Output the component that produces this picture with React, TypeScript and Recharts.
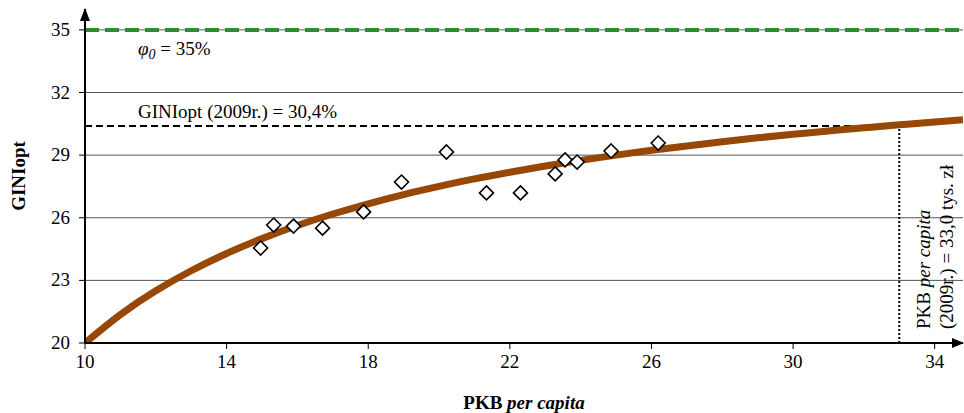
import {
  ComposedChart,
  Line,
  Scatter,
  XAxis,
  YAxis,
  ReferenceLine,
  ReferenceArea,
  ReferenceDot,
  Label,
} from "recharts";

// fitted curve
const curveX = [10, 11, 12, 13, 14, 15, 16, 17, 18, 19, 20, 21, 22, 23, 24, 25, 26, 27, 28, 29, 30, 31, 32, 33, 34, 34.8];
const curveY = [20.0, 21.36, 22.5, 23.46, 24.29, 25.0, 25.63, 26.18, 26.67, 27.11, 27.5, 27.86, 28.18, 28.48, 28.75, 29.0, 29.23, 29.44, 29.64, 29.83, 30.0, 30.16, 30.31, 30.45, 30.59, 30.69];

// observed points (PKB per capita, GINI)
const pointsX = [14.96, 15.33, 15.89, 16.71, 17.87, 18.94, 20.21, 21.34, 22.3, 23.28, 23.56, 23.9, 24.86, 26.19];
const pointsY = [24.55, 25.65, 25.6, 25.5, 26.28, 27.71, 29.15, 27.19, 27.19, 28.1, 28.77, 28.67, 29.2, 29.58];

const xTicks = [10, 14, 18, 22, 26, 30, 34];
const yTicks = [20, 23, 26, 29, 32, 35];

const X_MIN = 10;
const X_MAX = 34.8;
const Y_MIN = 20;
const Y_MAX = 36;

const PHI0 = 35;
const GINI_OPT = 30.4;
const PKB_OPT = 33.0;

const FONT = "Liberation Serif, Times New Roman, serif";
const FS = 19;

const curveData = curveX.map((x, i) => ({ x, y: curveY[i] }));
const pointData = pointsX.map((x, i) => ({ x, y: pointsY[i] }));

const Diamond = (props: any) => {
  const { cx, cy } = props;
  const r = 7;
  return (
    <path
      d={`M${cx},${cy - r} L${cx + r},${cy} L${cx},${cy + r} L${cx - r},${cy} Z`}
      fill="#fff"
      stroke="#000"
      strokeWidth={1.6}
    />
  );
};

const ArrowRight = (props: any) => {
  const { cx, cy } = props;
  return <path d={`M${cx + 1},${cy} L${cx - 11},${cy - 5} L${cx - 11},${cy + 5} Z`} fill="#000" />;
};

const ArrowUp = (props: any) => {
  const { cx, cy } = props;
  return <path d={`M${cx},${cy - 1} L${cx - 5},${cy + 12} L${cx + 5},${cy + 12} Z`} fill="#000" />;
};

const XTick = (props: any) => {
  const { x, y, payload } = props;
  return (
    <text x={x} y={y + 15} textAnchor="middle" fontFamily={FONT} fontSize={FS} fill="#000">
      {payload.value}
    </text>
  );
};

const YTick = (props: any) => {
  const { x, y, payload } = props;
  return (
    <text x={x} y={y + 6} textAnchor="end" fontFamily={FONT} fontSize={FS} fill="#000">
      {payload.value}
    </text>
  );
};

export default function App() {
  return (
    <div style={{ position: "absolute", left: 0, top: 0, background: "#fff", fontFamily: FONT }}>
      <ComposedChart
        width={964}
        height={413}
        margin={{ top: 9, right: 1, bottom: 0, left: 0 }}
      >
        {yTicks
          .filter((v) => v > Y_MIN)
          .map((v) => (
            <ReferenceLine key={v} y={v} stroke="#555" strokeWidth={1} />
          ))}
        <ReferenceArea x1={33.35} x2={X_MAX} y1={20.1} y2={29.6} fill="#fff" fillOpacity={1} stroke="none" />
        <XAxis
          type="number"
          dataKey="x"
          domain={[X_MIN, X_MAX]}
          ticks={xTicks}
          allowDataOverflow
          height={70}
          tickSize={6}
          tickMargin={4}
          tick={<XTick />}
          tickLine={{ stroke: "#000" }}
          axisLine={{ stroke: "#000", strokeWidth: 2 }}
        >
          <Label
            content={(p: any) => {
              const vb = p.viewBox;
              return (
                <text
                  x={vb.x + vb.width / 2}
                  y={vb.y + 66}
                  textAnchor="middle"
                  fontFamily={FONT}
                  fontSize={FS}
                  fontWeight="bold"
                  fill="#000"
                >
                  PKB<tspan fontStyle="italic"> per capita</tspan>
                </text>
              );
            }}
          />
        </XAxis>
        <YAxis
          type="number"
          dataKey="y"
          domain={[Y_MIN, Y_MAX]}
          ticks={yTicks}
          allowDataOverflow
          width={85}
          tickSize={6}
          tickMargin={9}
          tick={<YTick />}
          tickLine={{ stroke: "#000" }}
          axisLine={{ stroke: "#000", strokeWidth: 2 }}
        >
          <Label
            content={(p: any) => {
              const vb = p.viewBox;
              const cx = vb.x + 25;
              const cy = vb.y + vb.height / 2;
              return (
                <text
                  x={cx}
                  y={cy}
                  transform={`rotate(-90, ${cx}, ${cy})`}
                  textAnchor="middle"
                  fontFamily={FONT}
                  fontSize={FS}
                  fontWeight="bold"
                  fill="#000"
                >
                  GINIopt
                </text>
              );
            }}
          />
        </YAxis>
        <ReferenceLine
          y={PHI0}
          stroke="#2e8b2e"
          strokeWidth={4}
          strokeDasharray="14 6"
          label={(p: any) => {
            const vb = p.viewBox;
            return (
              <text x={vb.x + 53} y={vb.y + 25} fontFamily={FONT} fontSize={FS} fill="#000">
                <tspan fontStyle="italic">φ</tspan>
                <tspan fontStyle="italic" fontSize={14} dy={4}>0</tspan>
                <tspan dy={-4}> = 35%</tspan>
              </text>
            );
          }}
        />
        <ReferenceLine
          segment={[
            { x: X_MIN, y: GINI_OPT },
            { x: PKB_OPT, y: GINI_OPT },
          ]}
          stroke="#000"
          strokeWidth={2}
          strokeDasharray="7 4"
          label={(p: any) => {
            const vb = p.viewBox;
            return (
              <text x={vb.x + 53} y={vb.y - 8} fontFamily={FONT} fontSize={FS} fill="#000">
                GINIopt (2009r.) = 30,4%
              </text>
            );
          }}
        />
        <ReferenceLine
          segment={[
            { x: PKB_OPT, y: Y_MIN },
            { x: PKB_OPT, y: GINI_OPT },
          ]}
          stroke="#000"
          strokeWidth={2}
          strokeDasharray="2 2"
          label={(p: any) => {
            const vb = p.viewBox;
            const x1 = vb.x + 31;
            const x2 = vb.x + 54;
            const y = 329;
            return (
              <g fontFamily={FONT} fontSize={FS} fill="#000">
                <text x={x1} y={y} transform={`rotate(-90, ${x1}, ${y})`}>
                  PKB <tspan fontStyle="italic">per capita</tspan>
                </text>
                <text x={x2} y={y} transform={`rotate(-90, ${x2}, ${y})`}>
                  (2009r.) = 33,0 tys. zł
                </text>
              </g>
            );
          }}
        />
        <Line
          data={curveData}
          dataKey="y"
          type="natural"
          stroke="#974706"
          strokeWidth={7}
          dot={false}
          activeDot={false}
          isAnimationActive={false}
        />
        <Scatter data={pointData} dataKey="y" shape={Diamond} isAnimationActive={false} />
        <ReferenceDot x={X_MAX} y={Y_MIN} r={0} shape={ArrowRight} ifOverflow="visible" />
        <ReferenceDot x={X_MIN} y={Y_MAX} r={0} shape={ArrowUp} ifOverflow="visible" />
      </ComposedChart>
    </div>
  );
}
